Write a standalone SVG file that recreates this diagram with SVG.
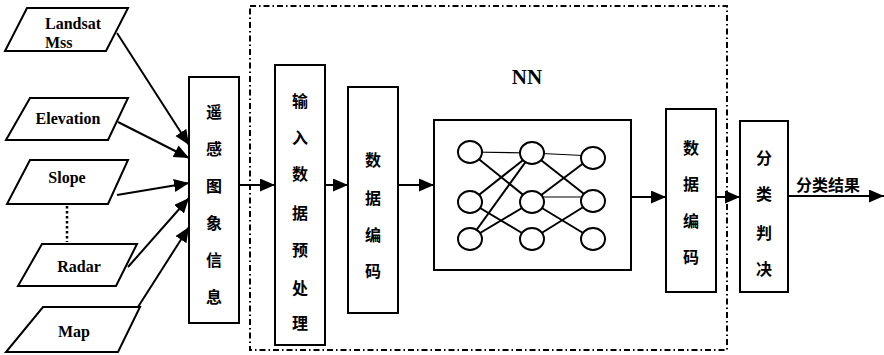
<svg xmlns="http://www.w3.org/2000/svg" width="884" height="355" viewBox="0 0 884 355">
<style>
.sh{fill:#fff;stroke:#000;stroke-width:2}
.en{font-family:"Liberation Serif",serif;font-weight:bold;font-size:16px;fill:#000}
.zh{font-family:"Noto Sans CJK SC",sans-serif;font-weight:bold;font-size:16px;fill:#000;text-anchor:middle}
.ln{stroke:#000;stroke-width:2;fill:none}
.nn{stroke:#000;stroke-width:2;fill:none}
.thin{stroke:#000;stroke-width:1.2;fill:none}
.nd{fill:#fff;stroke:#000;stroke-width:2}
</style>
<defs>
<marker id="ah" markerUnits="userSpaceOnUse" markerWidth="16" markerHeight="14" refX="15" refY="6.5" orient="auto">
<path d="M0,0 L15,6.5 L0,13 Z" fill="#000"/>
</marker>
</defs>
<rect width="884" height="355" fill="#fff"/>
<rect x="250" y="6" width="477" height="344" fill="none" stroke="#000" stroke-width="2" stroke-dasharray="6,3,1.5,3"/>
<g id="landsat"><path class="sh" d="M27,8 L128,8 L106,51 L5,51 Z"/><text class="en" x="73" y="29" text-anchor="middle">Landsat</text><text class="en" x="45" y="48">Mss</text></g>
<g id="elevation"><path class="sh" d="M30,98 L128,98 L108,140 L6,140 Z"/><text class="en" x="68" y="124" text-anchor="middle">Elevation</text></g>
<g id="slope"><path class="sh" d="M30,160 L128,160 L108,204 L7,204 Z"/><text class="en" x="67" y="183" text-anchor="middle">Slope</text></g>
<g id="radar"><path class="sh" d="M42,244 L137,244 L116,286 L18,286 Z"/><text class="en" x="79" y="272" text-anchor="middle">Radar</text></g>
<g id="map"><path class="sh" d="M43,307 L140,307 L118,352 L6,352 Z"/><text class="en" x="74" y="337" text-anchor="middle">Map</text></g>
<g id="rs"><rect class="sh" x="189" y="77" width="50" height="246"/>
<text class="zh" x="214" y="118">遥</text><text class="zh" x="214" y="155">感</text><text class="zh" x="214" y="192">图</text><text class="zh" x="214" y="229">象</text><text class="zh" x="214" y="266">信</text><text class="zh" x="214" y="303">息</text></g>
<g id="pre"><rect class="sh" x="275" y="65" width="50" height="280"/>
<text class="zh" x="300" y="107">输</text><text class="zh" x="300" y="144">入</text><text class="zh" x="300" y="180">数</text><text class="zh" x="300" y="219">据</text><text class="zh" x="300" y="256">预</text><text class="zh" x="300" y="294">处</text><text class="zh" x="300" y="329">理</text></g>
<g id="enc1"><rect class="sh" x="348" y="87" width="50" height="226"/>
<text class="zh" x="373" y="166">数</text><text class="zh" x="373" y="204">据</text><text class="zh" x="373" y="241">编</text><text class="zh" x="373" y="277">码</text></g>
<g id="nnlabel"><text x="527" y="84" text-anchor="middle" font-family="Liberation Serif,serif" font-weight="bold" font-size="21">NN</text></g>
<g id="nn"><rect class="sh" x="434" y="120" width="197" height="150"/>
<g class="nn">
<line class="thin" x1="470" y1="152" x2="532" y2="153"/>
<line x1="470" y1="152" x2="532" y2="202"/>
<line x1="470" y1="202" x2="532" y2="153"/>
<line x1="470" y1="202" x2="532" y2="239"/>
<line x1="470" y1="239" x2="532" y2="153"/>
<line x1="470" y1="239" x2="532" y2="202"/>
<line class="thin" x1="532" y1="153" x2="593" y2="156"/>
<line x1="532" y1="153" x2="593" y2="201"/>
<line x1="532" y1="202" x2="593" y2="156"/>
<line class="thin" x1="532" y1="197" x2="593" y2="197"/>
<line x1="532" y1="202" x2="593" y2="239"/>
<line x1="532" y1="239" x2="593" y2="201"/>
</g>
<ellipse class="nd" cx="470" cy="152" rx="12" ry="11"/><ellipse class="nd" cx="470" cy="202" rx="12" ry="11"/><ellipse class="nd" cx="470" cy="239" rx="12" ry="11"/>
<ellipse class="nd" cx="532" cy="153" rx="12" ry="11"/><ellipse class="nd" cx="532" cy="202" rx="12" ry="11"/><ellipse class="nd" cx="532" cy="239" rx="12" ry="11"/>
<ellipse class="nd" cx="593" cy="158" rx="12" ry="11"/><ellipse class="nd" cx="593" cy="201" rx="12" ry="11"/><ellipse class="nd" cx="593" cy="239" rx="12" ry="11"/>
</g>
<g id="enc2"><rect class="sh" x="666" y="109" width="50" height="183"/>
<text class="zh" x="691" y="154">数</text><text class="zh" x="691" y="190">据</text><text class="zh" x="691" y="227">编</text><text class="zh" x="691" y="263">码</text></g>
<g id="cls"><rect class="sh" x="740" y="121" width="48" height="171"/>
<text class="zh" x="764" y="164">分</text><text class="zh" x="764" y="200">类</text><text class="zh" x="764" y="239">判</text><text class="zh" x="764" y="275">决</text></g>
<g id="connectors">
<line class="ln" x1="117" y1="33" x2="189" y2="145" marker-end="url(#ah)"/>
<line class="ln" x1="118" y1="122" x2="189" y2="158" marker-end="url(#ah)"/>
<line class="ln" x1="117" y1="195" x2="189" y2="183" marker-end="url(#ah)"/>
<line class="ln" x1="128" y1="267" x2="189" y2="198" marker-end="url(#ah)"/>
<line class="ln" x1="138" y1="307" x2="189" y2="227" marker-end="url(#ah)"/>
<line x1="67" y1="206" x2="67" y2="242" stroke="#000" stroke-width="2.5" stroke-dasharray="2.5,2.5"/>
<line class="ln" x1="239" y1="185" x2="275" y2="185" marker-end="url(#ah)"/>
<line class="ln" x1="325" y1="185" x2="348" y2="185" marker-end="url(#ah)"/>
<line class="ln" x1="398" y1="185" x2="434" y2="185" marker-end="url(#ah)"/>
<line class="ln" x1="631" y1="197" x2="666" y2="197" marker-end="url(#ah)"/>
<line class="ln" x1="716" y1="197" x2="740" y2="197" marker-end="url(#ah)"/>
<line class="ln" x1="788" y1="196" x2="884" y2="196" marker-end="url(#ah)"/>
<text x="828" y="191" text-anchor="middle" font-family="Noto Sans CJK SC,sans-serif" font-weight="bold" font-size="16">分类结果</text>
</g>
</svg>
